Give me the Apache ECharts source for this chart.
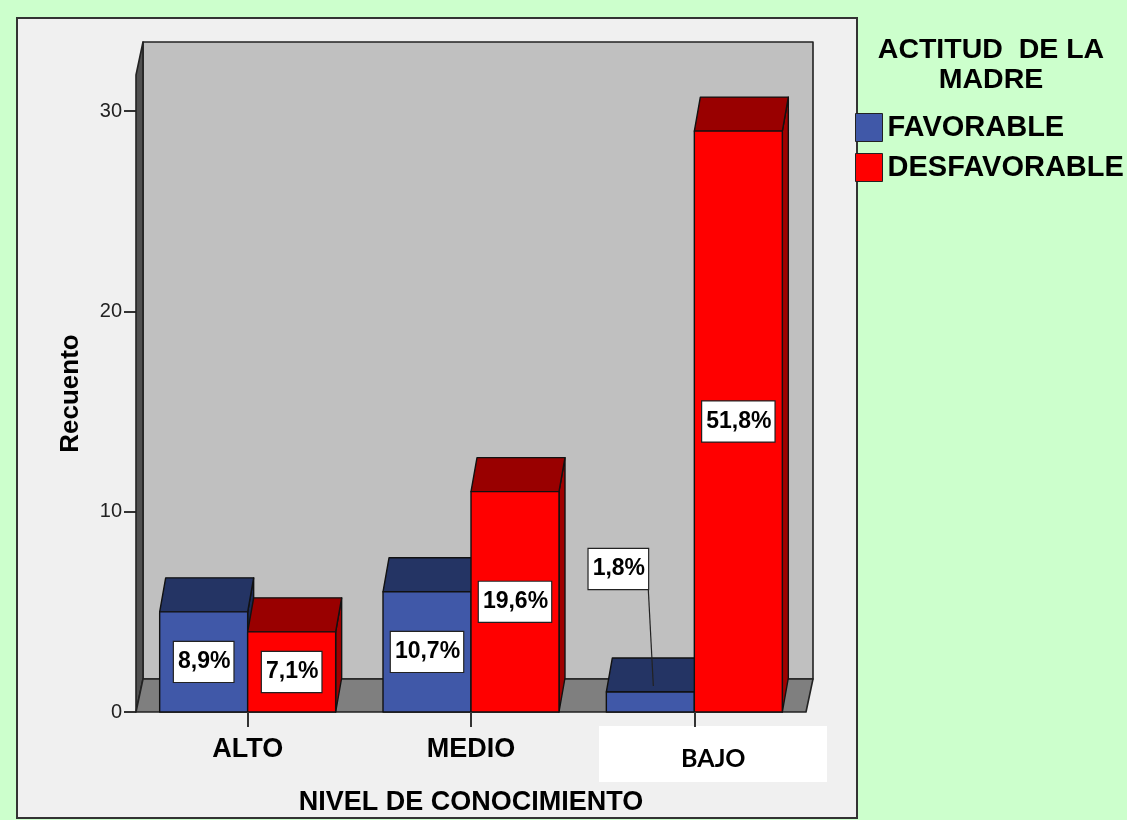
<!DOCTYPE html>
<html>
<head>
<meta charset="utf-8">
<script src="https://cdn.jsdelivr.net/npm/echarts@6/dist/echarts.min.js"></script>
<style>
  html, body { margin: 0; padding: 0; background: #ccffcc; }
  #chart { width: 1127px; height: 820px; }
</style>
</head>
<body>
<div id="chart"></div>
<script>
// Counts by knowledge level and mother's attitude
const categories = ['ALTO', 'MEDIO', 'BAJO'];
const seriesNames = ['FAVORABLE', 'DESFAVORABLE'];
const favorable = [5, 6, 1];
const desfavorable = [4, 11, 29];
const yTicks = [0, 10, 20, 30];
const yMax = 31.8;

const total = favorable.concat(desfavorable).reduce((a, b) => a + b, 0);
const FONT = '"Liberation Sans", Arial, sans-serif';

// Share of the total, written with a decimal comma
function pctLabel(v) {
  return (v / total * 100).toFixed(1).replace('.', ',') + '%';
}

// Pseudo-3D geometry
const BAR_RATIO = 0.394;   // bar width as a share of the category band
const BAR_DX = 6, BAR_DY = -34;
const WALL_DX = 7, WALL_DY = -33;
const EDGE = '#111';

const palette = [
  { front: '#4058a8', top: '#243464', side: '#1c2a55' },
  { front: '#ff0000', top: '#990000', side: '#a00000' }
];

function barRenderer(seriesIdx) {
  const c = palette[seriesIdx];
  return function (params, api) {
    const cat = api.value(0), val = api.value(1);
    const base = api.coord([cat, 0]);
    const top = api.coord([cat, val]);
    const band = api.size([1, 0])[0];
    const w = band * BAR_RATIO;
    const x0 = seriesIdx === 0 ? base[0] - w : base[0];
    const x1 = x0 + w;
    const y0 = base[1], yt = top[1];
    const lineStyle = { stroke: EDGE, lineWidth: 1.4, lineJoin: 'round' };
    const z2 = cat * 4 + seriesIdx * 2;
    const children = [
      {
        type: 'polygon', z2: z2,
        shape: { points: [[x1, yt], [x1 + BAR_DX, yt + BAR_DY], [x1 + BAR_DX, y0 + BAR_DY], [x1, y0]] },
        style: Object.assign({ fill: c.side }, lineStyle)
      },
      {
        type: 'polygon', z2: z2,
        shape: { points: [[x0, yt], [x1, yt], [x1 + BAR_DX, yt + BAR_DY], [x0 + BAR_DX, yt + BAR_DY]] },
        style: Object.assign({ fill: c.top }, lineStyle)
      },
      {
        type: 'rect', z2: z2 + 1,
        shape: { x: x0, y: yt, width: w, height: y0 - yt },
        style: Object.assign({ fill: c.front }, lineStyle)
      }
    ];
    const labelStyle = {
      text: pctLabel(val),
      font: 'bold 23px ' + FONT,
      fill: '#000',
      align: 'center',
      verticalAlign: 'middle',
      backgroundColor: '#fff',
      borderColor: '#222',
      borderWidth: 1.2,
      padding: [9, 3, 8, 4]
    };
    if (y0 - yt >= 50) {
      children.push({ type: 'text', z2: 50, x: (x0 + x1) / 2, y: (yt + y0) / 2, style: labelStyle });
    } else {
      // Short bar: callout above with a leader line
      children.push({
        type: 'line', z2: 49,
        shape: { x1: x0 + 42, y1: yt - 102, x2: x0 + 47, y2: yt - 6 },
        style: { stroke: '#222', lineWidth: 1.2 }
      });
      children.push({ type: 'text', z2: 50, x: x0 + 12, y: yt - 123, style: labelStyle });
    }
    return { type: 'group', children: children };
  };
}

// Back wall, left wall and floor of the plot box
function frameRenderer(params, api) {
  const cs = params.coordSys;
  const x = cs.x, y = cs.y, w = cs.width, h = cs.height;
  const dx = WALL_DX, dy = WALL_DY;
  const st = { stroke: '#222', lineWidth: 1.6, lineJoin: 'round' };
  return {
    type: 'group',
    children: [
      {
        type: 'rect',
        shape: { x: x + dx, y: y + dy, width: w, height: h },
        style: Object.assign({ fill: '#c0c0c0' }, st)
      },
      {
        type: 'polygon',
        shape: { points: [[x, y], [x + dx, y + dy], [x + dx, y + h + dy], [x, y + h]] },
        style: Object.assign({ fill: '#505050' }, st)
      },
      {
        type: 'polygon',
        shape: { points: [[x, y + h], [x + dx, y + h + dy], [x + w + dx, y + h + dy], [x + w, y + h]] },
        style: Object.assign({ fill: '#7f7f7f' }, st)
      }
    ]
  };
}

const chart = echarts.init(document.getElementById('chart'), null, { renderer: 'canvas' });

chart.setOption({
  backgroundColor: '#ccffcc',
  animation: false,
  textStyle: { fontFamily: FONT },
  graphic: [
    {
      type: 'rect', z: -10,
      shape: { x: 17, y: 18, width: 840, height: 800 },
      style: { fill: '#f0f0f0', stroke: '#333', lineWidth: 2 }
    },
    {
      type: 'rect', z: -5,
      shape: { x: 599, y: 726, width: 228, height: 56 },
      style: { fill: '#ffffff' }
    },
    {
      type: 'text', z: 10,
      style: {
        text: 'ACTITUD  DE LA\nMADRE',
        x: 991, y: 35,
        textAlign: 'center',
        font: 'bold 28.5px ' + FONT,
        lineHeight: 30,
        fill: '#000'
      }
    }
  ],
  legend: {
    data: seriesNames,
    orient: 'vertical',
    left: 855, top: 113,
    padding: 0,
    itemWidth: 27, itemHeight: 28, itemGap: 11,
    icon: 'rect',
    selectedMode: false,
    itemStyle: { borderColor: '#222', borderWidth: 1 },
    textStyle: { fontFamily: FONT, fontWeight: 'bold', fontSize: 29, color: '#000' }
  },
  grid: {
    left: 136, top: 75, width: 670, height: 637,
    containLabel: false,
    outerBoundsMode: 'none'
  },
  xAxis: {
    type: 'category',
    data: categories,
    z: 10,
    name: 'NIVEL DE CONOCIMIENTO',
    nameLocation: 'middle',
    nameGap: 77,
    nameTextStyle: { fontFamily: FONT, fontWeight: 'bold', fontSize: 27, color: '#000', verticalAlign: 'top' },
    axisLine: { show: false },
    axisTick: { show: true, alignWithLabel: true, length: 15, lineStyle: { color: '#333', width: 2 } },
    axisLabel: {
      margin: 24,
      fontFamily: FONT, fontWeight: 'bold', fontSize: 27, color: '#000',
      formatter: function (v) { return v === 'BAJO' ? '{b|' + v + '}' : v; },
      rich: {
        b: { fontFamily: 'Lato, "Open Sans", sans-serif', fontWeight: 'bold', fontSize: 25, color: '#000', padding: [10, 0, 0, 38] }
      }
    },
    splitLine: { show: false }
  },
  yAxis: {
    type: 'value',
    min: 0, max: yMax,
    name: 'Recuento',
    nameLocation: 'middle',
    nameGap: 52,
    nameTextStyle: { fontFamily: FONT, fontWeight: 'bold', fontSize: 26, color: '#000' },
    axisLine: { show: false },
    axisTick: { show: true, length: 12, customValues: yTicks, lineStyle: { color: '#333', width: 2 } },
    axisLabel: { margin: 14, fontSize: 20, color: '#222', fontFamily: FONT, customValues: yTicks },
    splitLine: { show: false }
  },
  series: [
    {
      type: 'custom', name: 'frame', z: 1, silent: true,
      renderItem: frameRenderer,
      data: [[0, 0]]
    },
    {
      type: 'custom', name: seriesNames[0], z: 2,
      itemStyle: { color: palette[0].front },
      renderItem: barRenderer(0),
      data: favorable.map((v, i) => [i, v])
    },
    {
      type: 'custom', name: seriesNames[1], z: 2,
      itemStyle: { color: palette[1].front },
      renderItem: barRenderer(1),
      data: desfavorable.map((v, i) => [i, v])
    }
  ]
});
</script>
</body>
</html>
